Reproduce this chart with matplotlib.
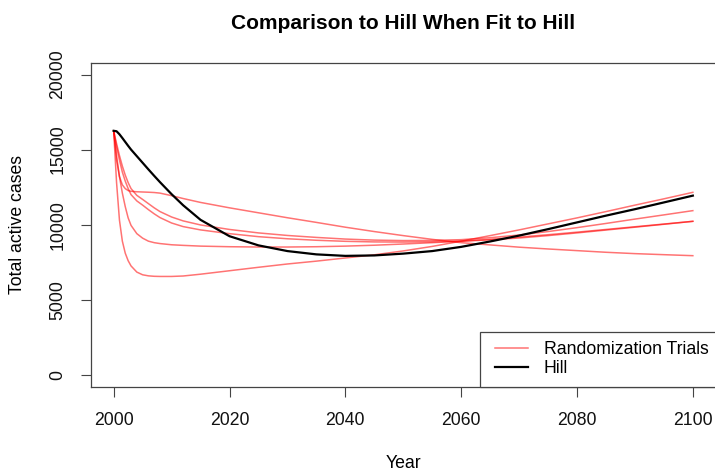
import matplotlib
matplotlib.use("Agg")
import matplotlib.pyplot as plt
from matplotlib.lines import Line2D
from matplotlib.legend_handler import HandlerLine2D

W, H = 715, 470

YEARS = [2000, 2000.5, 2001, 2001.5, 2002, 2002.5, 2003, 2004, 2005, 2006, 2007,
         2008, 2010, 2012, 2015, 2020, 2025, 2030, 2035, 2040, 2045, 2050, 2055,
         2060, 2065, 2070, 2075, 2080, 2085, 2090, 2095, 2100]

HILL = [16250, 16220, 16020, 15770, 15510, 15250, 15000, 14560, 14120, 13680, 13250,
        12830, 12030, 11290, 10320, 9230, 8620, 8240, 8020, 7920, 7950, 8070, 8240,
        8520, 8880, 9270, 9700, 10150, 10600, 11030, 11480, 11933]

TRIAL_A = [16250, 12800, 10300, 8900, 8100, 7600, 7250, 6840, 6660, 6590, 6560,
           6550, 6550, 6580, 6700, 6930, 7160, 7380, 7570, 7780, 7990, 8250, 8550,
           8900, 9270, 9650, 10050, 10450, 10870, 11300, 11720, 12153]
TRIAL_B = [16250, 14600, 13200, 12100, 11200, 10450, 9950, 9400, 9100, 8900, 8800,
           8740, 8660, 8620, 8570, 8530, 8510, 8510, 8530, 8570, 8630, 8710, 8800,
           8890, 8990, 9110, 9270, 9450, 9640, 9830, 10025, 10222]
TRIAL_C = [16250, 15400, 14600, 13900, 13300, 12800, 12400, 11950, 11680, 11400, 11120,
           10870, 10510, 10250, 9980, 9680, 9450, 9280, 9150, 9040, 8970, 8940, 8950,
           9000, 9130, 9310, 9540, 9800, 10080, 10370, 10650, 10933]
TRIAL_D = [16250, 15200, 14300, 13500, 12900, 12400, 12000, 11580, 11300, 11000, 10720,
           10470, 10110, 9870, 9650, 9400, 9200, 9060, 8960, 8890, 8850, 8840, 8860,
           8910, 9020, 9170, 9330, 9500, 9680, 9860, 10040, 10222]
TRIAL_E = [16250, 14300, 13200, 12650, 12400, 12270, 12220, 12190, 12175, 12160, 12140,
           12100, 11930, 11740, 11480, 11120, 10790, 10460, 10150, 9830, 9540, 9270, 9020,
           8800, 8650, 8500, 8380, 8270, 8160, 8070, 8000, 7933]
TRIALS = [TRIAL_A, TRIAL_B, TRIAL_C, TRIAL_D, TRIAL_E]

X_TICKS = [2000, 2020, 2040, 2060, 2080, 2100]
Y_TICKS = [0, 5000, 10000, 15000, 20000]

TRIAL_COLOR = (1.0, 0.0, 0.0, 0.55)
FRAME = "#444444"
FONT = "Liberation Sans"

plt.rcParams["font.family"] = FONT

fig = plt.figure(figsize=(W / 100, H / 100), dpi=100, facecolor="white")
left, right, bottom, top = 90.5, 716, 386.8, 62.5
ax = fig.add_axes([left / W, 1 - bottom / H, (right - left) / W, (bottom - top) / H])

for trial in TRIALS:
  ax.plot(YEARS, trial, color=TRIAL_COLOR, linewidth=1.1)
ax.plot(YEARS, HILL, color="black", linewidth=1.6)

ax.set_xlim(1996, 2104)
ax.set_ylim(-800, 20800)
ax.set_xticks(X_TICKS)
ax.set_yticks(Y_TICKS)
ax.set_yticklabels([str(v) for v in Y_TICKS], rotation=90, va="center")
ax.tick_params(axis="both", length=7.5, width=0.8, color=FRAME, labelsize=12.7,
               labelcolor="#111111")
ax.tick_params(axis="x", pad=11)
ax.tick_params(axis="y", pad=10)
for spine in ax.spines.values():
  spine.set_color(FRAME)
  spine.set_linewidth(0.9)

ax.set_title("Comparison to Hill When Fit to Hill", fontsize=15, fontweight="bold", pad=24)
fig.text(403 / W, 1 - 463 / H, "Year", ha="center", va="center", fontsize=12.7)
fig.text(18 / W, 1 - 225 / H, "Total active cases", ha="center", va="center",
         rotation=90, fontsize=12.7)

handles = [Line2D([], [], color=TRIAL_COLOR, linewidth=1.1),
           Line2D([], [], color="black", linewidth=1.6)]
leg = ax.legend(handles, ["Randomization Trials", "Hill"], loc="lower left",
                bbox_to_anchor=((480 - left) / (right - left), 0), borderaxespad=0,
                fontsize=12.7, frameon=True, fancybox=False, framealpha=1,
                handlelength=2.15, handletextpad=0.9, labelspacing=0.1, borderpad=0.55,
                handler_map={Line2D: HandlerLine2D(xpad=0.28)})
leg.get_frame().set_edgecolor(FRAME)
leg.get_frame().set_linewidth(0.9)

fig.savefig("out.png", dpi=100, facecolor="white")
